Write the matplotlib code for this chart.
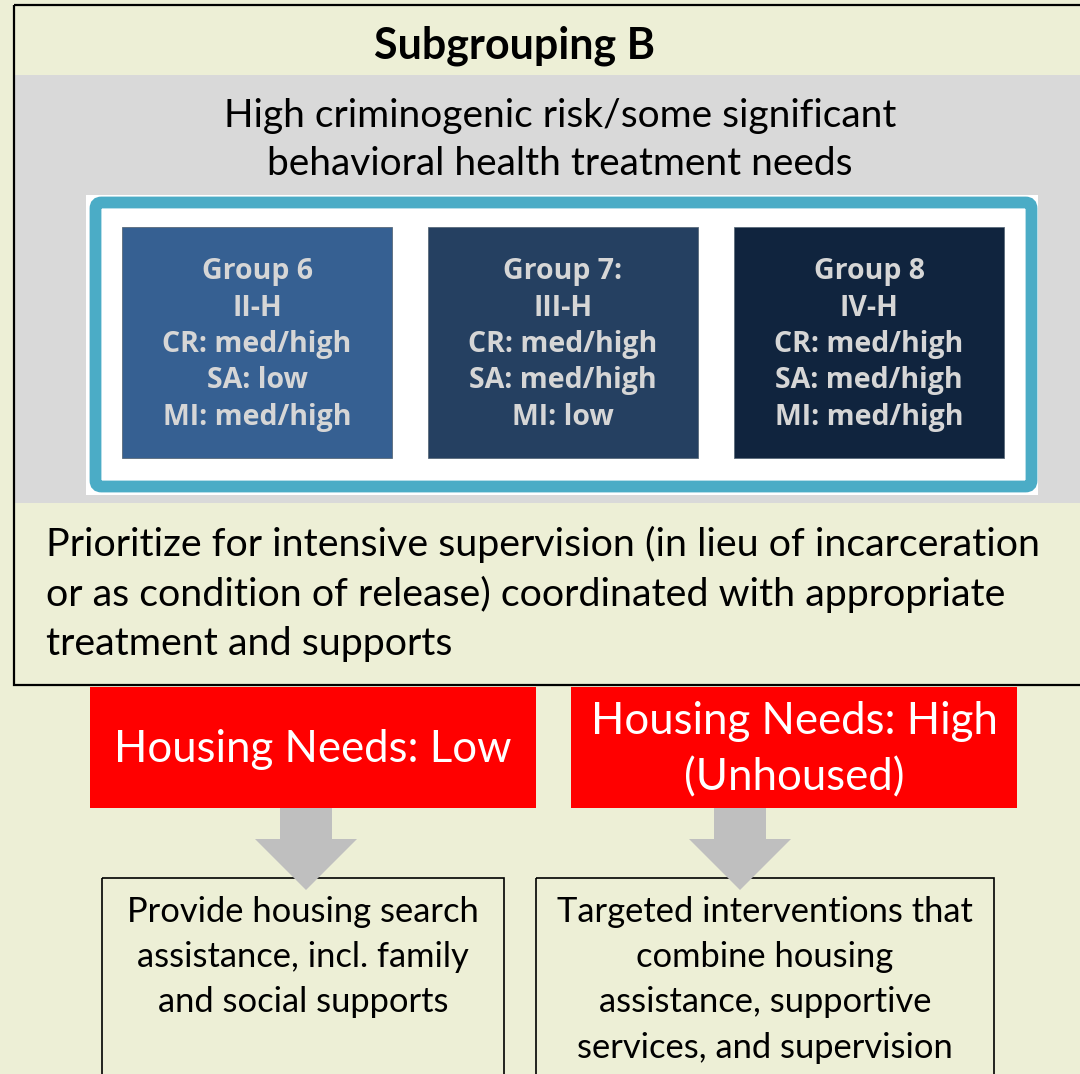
import matplotlib.pyplot as plt
from matplotlib.patches import Rectangle, FancyBboxPatch, Polygon

# Textos do diagrama
titulo = 'Subgrouping B'
subtitulo = ['High criminogenic risk/some significant',
             'behavioral health treatment needs']
grupos = ['Group 6', 'Group 7:', 'Group 8']
codigos = ['II-H', 'III-H', 'IV-H']
cr = ['med/high', 'med/high', 'med/high']
sa = ['low', 'med/high', 'med/high']
mi = ['med/high', 'low', 'med/high']
cores_grupos = ['#366092', '#254061', '#10243E']
recomendacao = ['Prioritize for intensive supervision (in lieu of incarceration',
                'or as condition of release) coordinated with appropriate',
                'treatment and supports']
moradia = [['Housing Needs: Low'], ['Housing Needs: High', '(Unhoused)']]
acoes = [['Provide housing search', 'assistance, incl. family', 'and social supports'],
         ['Targeted interventions that', 'combine housing', 'assistance, supportive',
          'services, and supervision']]

FUNDO = '#EDEFD6'
CINZA = '#D9D9D9'
TEAL = '#4BACC6'
FONTE = 'Lato'


def desenhar():
    fig = plt.figure(figsize=(10.8, 10.74), dpi=100, facecolor=FUNDO)
    ax = fig.add_axes([0, 0, 1, 1])
    ax.set_xlim(0, 1080)
    ax.set_ylim(1074, 0)
    ax.axis('off')

    # caixa principal
    ax.add_patch(Rectangle((15, 75), 1080, 428, facecolor=CINZA, edgecolor='none', zorder=1))
    ax.add_patch(Rectangle((14, 5), 1090, 680, facecolor='none', edgecolor='black', lw=1.6, zorder=5))
    ax.text(514, 46, titulo, ha='center', va='center', fontsize=31, fontweight='bold',
            family=FONTE, zorder=6)
    for i, linha in enumerate(subtitulo):
        ax.text(560, 116 + i * 48, linha, ha='center', va='center', fontsize=28,
                family=FONTE, zorder=6)

    # moldura dos grupos
    ax.add_patch(Rectangle((86, 195), 952, 300, facecolor='white', edgecolor='none', zorder=2))
    ax.add_patch(FancyBboxPatch((95.5, 202.5), 936, 284,
                                boxstyle='round,pad=0,rounding_size=6',
                                facecolor='white', edgecolor=TEAL, lw=8.5, zorder=3))
    xs = [122, 428, 734]
    larg = 270
    for i, g in enumerate(grupos):
        ax.add_patch(Rectangle((xs[i], 227), larg, 231, facecolor=cores_grupos[i],
                               edgecolor='#5a6a7a', lw=0.6, zorder=4))
        linhas = [g, codigos[i], 'CR: ' + cr[i], 'SA: ' + sa[i], 'MI: ' + mi[i]]
        for j, t in enumerate(linhas):
            ax.text(xs[i] + larg / 2, 272 + j * 36.3, t, ha='center', va='center',
                    fontsize=20.5, family='Open Sans', fontweight='bold',
                    color='#D6D6D6', zorder=6)

    for i, linha in enumerate(recomendacao):
        ax.text(46, 544 + i * 50, linha, ha='left', va='center', fontsize=28.4,
                family=FONTE, zorder=6)

    # caixas vermelhas, setas e caixas finais
    xs_verm = [90, 571]
    centros_seta = [306, 740]
    caixas = [(102, 402), (536, 458)]
    for i in range(2):
        ax.add_patch(Rectangle((xs_verm[i], 687), 446, 121, facecolor='#FF0000',
                               edgecolor='none', zorder=4))
        n = len(moradia[i])
        for k, t in enumerate(moradia[i]):
            y = 750 + (k - (n - 1) / 2) * 56
            ax.text(xs_verm[i] + 223, y, t, ha='center', va='center',
                    fontsize=31.5, color='white', family=FONTE, zorder=6)

        x0, w = caixas[i]
        ax.add_patch(Rectangle((x0, 878), w, 220, facecolor='none', edgecolor='black',
                               lw=1.2, zorder=4))
        for k, t in enumerate(acoes[i]):
            ax.text(x0 + w / 2, 912 + k * 45.2, t, ha='center', va='center', fontsize=24.8,
                    family=FONTE, zorder=6)

        c = centros_seta[i]
        seta = Polygon([(c - 26, 808), (c + 26, 808), (c + 26, 839), (c + 51, 839),
                        (c, 890), (c - 51, 839), (c - 26, 839)],
                       closed=True, facecolor='#BFBFBF', edgecolor='none', zorder=5)
        ax.add_patch(seta)

    fig.savefig('out.png', dpi=100, facecolor=FUNDO)


def main():
    desenhar()


if __name__ == "__main__":
    main()
